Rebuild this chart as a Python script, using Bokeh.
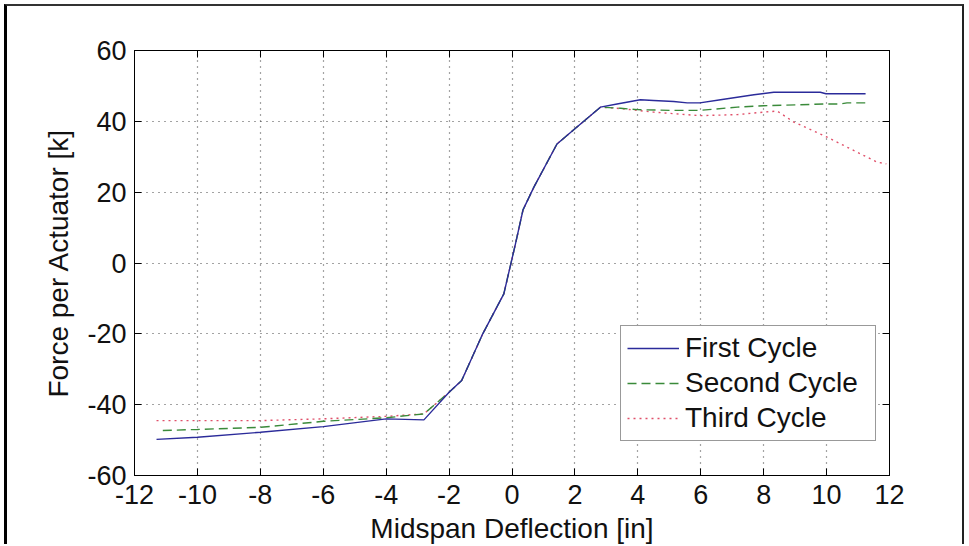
from bokeh.plotting import figure
from bokeh.models import (Range1d, LinearAxis, FixedTicker, Legend, LegendItem,
                          CustomJSTickFormatter, PrintfTickFormatter)
from bokeh.embed import file_html
from bokeh.resources import INLINE

# ---- data ----
x_ticks = [-12, -10, -8, -6, -4, -2, 0, 2, 4, 6, 8, 10, 12]
y_ticks = [-60, -40, -20, 0, 20, 40, 60]

first_x = [-11.3, -10.0, -8.0, -6.0, -4.0, -2.8, -2.0, -1.6, -0.93, -0.26, 0.1, 0.35, 0.7,
           1.43, 2.0, 2.81, 3.34, 4.08, 4.5, 5.14, 5.57, 5.97, 6.63, 7.69, 8.32, 9.8, 9.98, 11.24]
first_y = [-49.8, -49.2, -47.8, -46.2, -44.0, -44.3, -36.5, -33.2, -20.0, -8.7, 5.0, 15.0, 21.5,
           33.6, 37.9, 44.0, 44.9, 46.1, 45.9, 45.6, 45.2, 45.2, 46.1, 47.5, 48.2, 48.2, 47.8, 47.8]

second_x = [-11.1, -10.0, -8.0, -6.0, -4.0, -2.8, -2.0, -1.6, -0.93, -0.26, 0.1, 0.35, 0.7,
            1.43, 2.0, 2.81, 3.45, 3.98, 5.04, 5.97, 7.16, 8.0, 9.98, 10.44, 10.65, 11.24]
second_y = [-47.3, -47.0, -46.4, -44.7, -43.7, -42.6, -36.5, -33.2, -20.0, -8.7, 5.0, 15.0, 21.5,
            33.6, 37.9, 44.0, 43.7, 43.3, 43.1, 43.1, 44.0, 44.4, 44.9, 44.9, 45.2, 45.2]

third_x = [-11.3, -8.0, -6.0, -4.0, -2.8, -2.0, -1.6, -0.93, -0.26, 0.1, 0.35, 0.7,
           1.43, 2.0, 2.81, 3.45, 4.5, 5.97, 7.16, 8.0, 8.43, 8.96, 9.98, 11.6, 11.9]
third_y = [-44.5, -44.5, -44.0, -43.3, -42.6, -36.5, -33.2, -20.0, -8.7, 5.0, 15.0, 21.5,
           33.6, 37.9, 44.0, 43.6, 42.6, 41.6, 41.9, 42.6, 42.9, 39.8, 35.7, 28.5, 28.0]

labels = ["First Cycle", "Second Cycle", "Third Cycle"]

FONT = "Liberation Sans"

p = figure(width=960, height=540,
           x_range=Range1d(-12, 12), y_range=Range1d(-60, 60),
           output_backend="svg", toolbar_location=None,
           min_border_left=127, min_border_right=78,
           min_border_top=44, min_border_bottom=71)
p.styles = {"margin-left": "4px", "margin-top": "4px",
            "border-left": "3px solid #000", "border-top": "2px solid #333",
            "border-right": "2px solid #222"}
p.background_fill_color = "white"
p.border_fill_color = "white"
p.outline_line_color = "black"
p.outline_line_width = 1

# axes
p.xaxis.ticker = FixedTicker(ticks=x_ticks)
p.yaxis.ticker = FixedTicker(ticks=y_ticks)
p.xaxis.formatter = PrintfTickFormatter(format="%d")
p.yaxis.formatter = PrintfTickFormatter(format="%d")
p.xaxis.axis_label = "Midspan Deflection [in]"
p.yaxis.axis_label = "Force per Actuator [k]"

for ax in (p.xaxis[0], p.yaxis[0]):
    ax.major_label_text_font = FONT
    ax.major_label_text_font_size = "27px"
    ax.major_label_text_color = "#111"
    ax.axis_label_text_font = FONT
    ax.axis_label_text_font_size = "28px"
    ax.axis_label_text_font_style = "normal"
    ax.axis_label_text_color = "#111"
    ax.major_tick_in = 7
    ax.major_tick_out = 0
    ax.minor_tick_line_color = None
    ax.axis_line_color = "black"
    ax.major_tick_line_color = "black"

p.xaxis.major_label_standoff = 9
p.xaxis.axis_label_standoff = 6
p.yaxis.major_label_standoff = 8
p.yaxis.axis_label_standoff = 10

empty = CustomJSTickFormatter(code="return ''")
top = LinearAxis(ticker=FixedTicker(ticks=x_ticks), formatter=empty,
                 major_tick_in=7, major_tick_out=0, minor_tick_line_color=None,
                 major_label_standoff=0, major_label_text_font_size="1px")
right = LinearAxis(ticker=FixedTicker(ticks=y_ticks), formatter=empty,
                   major_tick_in=7, major_tick_out=0, minor_tick_line_color=None,
                   major_label_standoff=0, major_label_text_font_size="1px")
p.add_layout(top, "above")
p.add_layout(right, "right")

# grid
for g in (p.xgrid[0], p.ygrid[0]):
    g.grid_line_color = "#333333"
    g.grid_line_dash = "1 5"
    g.grid_line_width = 1.2
    g.grid_line_alpha = 0.9

# series
r3 = p.line(third_x, third_y, line_color="#e0506a", line_width=1.4, line_dash="2 4")
r2 = p.line(second_x, second_y, line_color="#3a8a3a", line_width=1.4, line_dash="9 5")
r1 = p.line(first_x, first_y, line_color="#2b2b9a", line_width=1.4)

legend = Legend(items=[LegendItem(label=labels[0], renderers=[r1]),
                       LegendItem(label=labels[1], renderers=[r2]),
                       LegendItem(label=labels[2], renderers=[r3])],
                location=(486, 34))
legend.label_text_font = FONT
legend.label_text_font_size = "28px"
legend.label_text_color = "#111"
legend.glyph_width = 52
legend.glyph_height = 32
legend.label_height = 32
legend.label_width = 184
legend.label_standoff = 6
legend.spacing = 3
legend.padding = 6
legend.margin = 0
legend.border_line_color = "#333333"
legend.border_line_width = 1.5
legend.background_fill_color = "white"
legend.background_fill_alpha = 1
p.add_layout(legend, "center")

open("out.html", "w").write(file_html(p, INLINE))
